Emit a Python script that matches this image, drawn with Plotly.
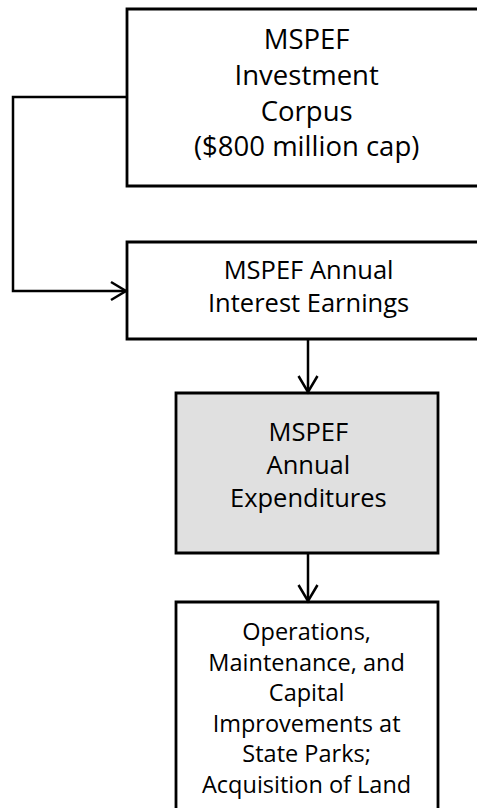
import plotly.graph_objects as go

# Flowchart content
box_labels = [
    ["MSPEF", "Investment", "Corpus", "($800 million cap)"],
    ["MSPEF Annual", "Interest Earnings"],
    ["MSPEF", "Annual", "Expenditures"],
    ["Operations,", "Maintenance, and", "Capital", "Improvements at", "State Parks;", "Acquisition of Land"],
]
box_fills = ["white", "white", "#e0e0e0", "white"]

# Layout geometry (pixels; page is 477 x 808)
W, H = 477, 808
boxes = [  # x0, y0, x1, y1  (boxes 1 and 2 run off the right edge, box 4 off the bottom)
    (127, 9, 520, 186),
    (127, 242, 520, 339),
    (176, 393, 438, 553),
    (176, 602, 438, 850),
]
open_right = [True, True, False, False]
text_cx = [306, 308, 308, 306]
text_cy = [92, 285, 464, 707]
text_size = [27.5, 25.5, 25.5, 23.5]

FONT = "Open Sans"
fig = go.Figure()
shapes = []
for (x0, y0, x1, y1), fill, op in zip(boxes, box_fills, open_right):
    if op:
        shapes.append(dict(type="path", path=f"M {x1},{y0} L {x0},{y0} L {x0},{y1} L {x1},{y1}",
                           xref="x", yref="y", line=dict(color="black", width=2.8), layer="below"))
    else:
        shapes.append(dict(type="rect", x0=x0, y0=y0, x1=x1, y1=y1, xref="x", yref="y",
                           line=dict(color="black", width=2.8), fillcolor=fill, layer="below"))

lw = 2.5
# feedback connector: box1 left -> left edge -> down -> box2 left
shapes.append(dict(type="path", path="M 127,97 L 13,97 L 13,291 L 126,291",
                   line=dict(color="black", width=lw), xref="x", yref="y"))
def vhead(x, y, d):
    if d == "right":
        return f"M {x-15},{y-9} L {x},{y} L {x-15},{y+9}"
    return f"M {x-9.5},{y-16} L {x},{y} L {x+9.5},{y-16}"
shapes.append(dict(type="path", path=vhead(126, 291, "right"), line=dict(color="black", width=lw), xref="x", yref="y"))
# vertical arrows
for ya, yb in [(339, 392), (553, 601)]:
    shapes.append(dict(type="line", x0=308, x1=308, y0=ya, y1=yb, line=dict(color="black", width=lw), xref="x", yref="y"))
    shapes.append(dict(type="path", path=vhead(308, yb, "down"), line=dict(color="black", width=lw), xref="x", yref="y"))

annotations = []
for lines, cx, cy, fs in zip(box_labels, text_cx, text_cy, text_size):
    annotations.append(dict(x=cx, y=cy, text="<br>".join(lines), showarrow=False, xref="x", yref="y",
                            xanchor="center", yanchor="middle", align="center",
                            font=dict(family=FONT, size=fs, color="black")))

fig.add_trace(go.Scatter(x=[0, W], y=[0, H], mode="markers", marker=dict(opacity=0), hoverinfo="skip", showlegend=False))
fig.update_layout(width=W, height=H, margin=dict(l=0, r=0, t=0, b=0),
                  paper_bgcolor="white", plot_bgcolor="white",
                  xaxis=dict(range=[0, W], visible=False, fixedrange=True),
                  yaxis=dict(range=[H, 0], visible=False, fixedrange=True),
                  shapes=shapes, annotations=annotations, showlegend=False)
fig.write_html("out.html", config={"displayModeBar": False},
               post_script="document.body.style.margin='0';document.body.style.overflow='hidden';")
